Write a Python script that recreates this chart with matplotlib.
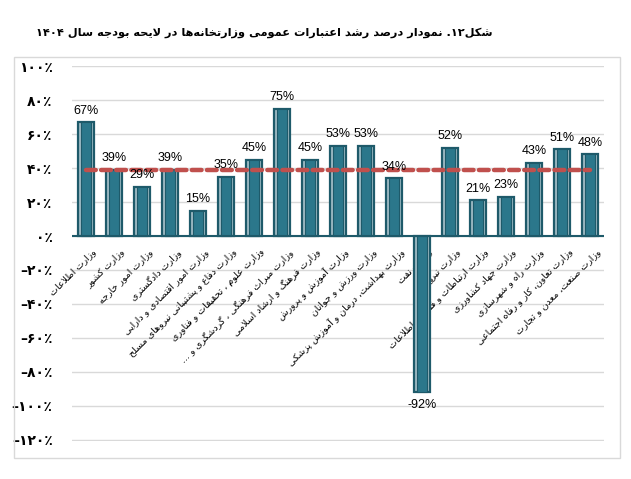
import matplotlib
matplotlib.use('Agg')
import matplotlib.pyplot as plt
from matplotlib.patches import Rectangle

title = 'شکل۱۲. نمودار درصد رشد اعتبارات عمومی وزارتخانه\u200cها در لایحه بودجه سال ۱۴۰۴'

ministries = [
    'وزارت اطلاعات',
    'وزارت کشور',
    'وزارت امور خارجه',
    'وزارت دادگستری',
    'وزارت امور اقتصادی و دارایی',
    'وزارت دفاع و پشتیبانی نیروهای مسلح',
    'وزارت علوم ، تحقیقات و فناوری',
    'وزارت میراث فرهنگی ، گردشگری و ...',
    'وزارت فرهنگ و ارشاد اسلامی',
    'وزارت آموزش و پرورش',
    'وزارت ورزش و جوانان',
    'وزارت بهداشت، درمان و آموزش پزشکی',
    'وزارت نفت',
    'وزارت نیرو',
    'وزارت ارتباطات و فناوری اطلاعات',
    'وزارت جهاد کشاورزی',
    'وزارت راه و شهرسازی',
    'وزارت تعاون، کار و رفاه اجتماعی',
    'وزارت صنعت، معدن و تجارت',
]
growth = [67, 39, 29, 39, 15, 35, 45, 75, 45, 53, 53, 34, -92, 52, 21, 23, 43, 51, 48]
average = 39
yticks = [-120, -100, -80, -60, -40, -20, 0, 20, 40, 60, 80, 100]

# matplotlib does no arabic shaping, so do it by hand with presentation forms
FORMS = {
    'ا': ('\uFE8D', '\uFE8E', None, None),
    'آ': ('\uFE81', '\uFE82', None, None),
    'ب': ('\uFE8F', '\uFE90', '\uFE91', '\uFE92'),
    'پ': ('\uFB56', '\uFB57', '\uFB58', '\uFB59'),
    'ت': ('\uFE95', '\uFE96', '\uFE97', '\uFE98'),
    'ث': ('\uFE99', '\uFE9A', '\uFE9B', '\uFE9C'),
    'ج': ('\uFE9D', '\uFE9E', '\uFE9F', '\uFEA0'),
    'چ': ('\uFB7A', '\uFB7B', '\uFB7C', '\uFB7D'),
    'ح': ('\uFEA1', '\uFEA2', '\uFEA3', '\uFEA4'),
    'خ': ('\uFEA5', '\uFEA6', '\uFEA7', '\uFEA8'),
    'د': ('\uFEA9', '\uFEAA', None, None),
    'ذ': ('\uFEAB', '\uFEAC', None, None),
    'ر': ('\uFEAD', '\uFEAE', None, None),
    'ز': ('\uFEAF', '\uFEB0', None, None),
    'ژ': ('\uFB8A', '\uFB8B', None, None),
    'س': ('\uFEB1', '\uFEB2', '\uFEB3', '\uFEB4'),
    'ش': ('\uFEB5', '\uFEB6', '\uFEB7', '\uFEB8'),
    'ص': ('\uFEB9', '\uFEBA', '\uFEBB', '\uFEBC'),
    'ض': ('\uFEBD', '\uFEBE', '\uFEBF', '\uFEC0'),
    'ط': ('\uFEC1', '\uFEC2', '\uFEC3', '\uFEC4'),
    'ظ': ('\uFEC5', '\uFEC6', '\uFEC7', '\uFEC8'),
    'ع': ('\uFEC9', '\uFECA', '\uFECB', '\uFECC'),
    'غ': ('\uFECD', '\uFECE', '\uFECF', '\uFED0'),
    'ف': ('\uFED1', '\uFED2', '\uFED3', '\uFED4'),
    'ق': ('\uFED5', '\uFED6', '\uFED7', '\uFED8'),
    'ک': ('\uFB8E', '\uFB8F', '\uFB90', '\uFB91'),
    'گ': ('\uFB92', '\uFB93', '\uFB94', '\uFB95'),
    'ل': ('\uFEDD', '\uFEDE', '\uFEDF', '\uFEE0'),
    'م': ('\uFEE1', '\uFEE2', '\uFEE3', '\uFEE4'),
    'ن': ('\uFEE5', '\uFEE6', '\uFEE7', '\uFEE8'),
    'و': ('\uFEED', '\uFEEE', None, None),
    'ه': ('\uFEE9', '\uFEEA', '\uFEEB', '\uFEEC'),
    'ی': ('\uFBFC', '\uFBFD', '\uFBFE', '\uFBFF'),
    'ئ': ('\uFE89', '\uFE8A', '\uFE8B', '\uFE8C'),
}
LAMALEF = {'ا': ('\uFEFB', '\uFEFC'), 'آ': ('\uFEF5', '\uFEF6')}
DIGITS = '0123456789۰۱۲۳۴۵۶۷۸۹'


def fa(s):
    res = []
    i = 0
    while i < len(s):
        c = s[i]
        prev = s[i - 1] if i > 0 else ''
        joined = prev in FORMS and FORMS[prev][2] is not None
        nxt = s[i + 1] if i + 1 < len(s) else ''
        if c == 'ل' and nxt in LAMALEF:
            res.append(LAMALEF[nxt][1 if joined else 0])
            i += 2
            continue
        if c in FORMS:
            iso, fin, ini, med = FORMS[c]
            if ini is not None and nxt in FORMS:
                res.append(med if joined else ini)
            else:
                res.append(fin if joined else iso)
        elif c != '\u200c':
            res.append(c)
        i += 1
    # visual order: reverse, but keep digit runs left to right
    runs = []
    for c in res:
        if c in DIGITS and runs and runs[-1][-1] in DIGITS:
            runs[-1] += c
        else:
            runs.append(c)
    return ''.join(runs[::-1])


def fa_num(v):
    d = ''.join('۰۱۲۳۴۵۶۷۸۹'[int(k)] for k in str(abs(v)))
    return ('\u2013' if v < 0 else '') + d + '٪'


fig = plt.figure(figsize=(6.31, 4.79), dpi=100)
fig.patches.append(Rectangle((14 / 631, 1 - 458 / 479), 606 / 631, 401 / 479,
                             transform=fig.transFigure, fill=False,
                             edgecolor='#D9D9D9', linewidth=1))
ax = fig.add_axes([72 / 631, 38.5 / 479, 532 / 631, 375 / 479])

x = list(range(len(growth)))
ax.bar(x, growth, width=0.56, color='#9DBAC3', edgecolor='#1E5A6A', linewidth=1.6, zorder=3)
ax.bar(x, growth, width=0.36, color='#2B778B', edgecolor='#1E5A6A', linewidth=0.8, zorder=4)
ax.axhline(0, color='#1E5A6A', linewidth=1.5, zorder=5)
ax.plot(x, [average] * len(x), color='#C0504D', linewidth=3.2, linestyle=(0, (2.2, 1.2)),
        dash_capstyle='round', zorder=6)

for i, v in enumerate(growth):
    if v >= 0:
        ax.annotate(f'{v}%', (i, v), xytext=(0, 4), textcoords='offset points',
                    ha='center', va='bottom', fontsize=9, family='Liberation Sans', zorder=7)
    else:
        ax.annotate(f'{v}%', (i, v), xytext=(0, -5), textcoords='offset points',
                    ha='center', va='top', fontsize=9, family='Liberation Sans', zorder=7)
    ax.annotate(fa(ministries[i]), (i, 0), xytext=(4, -8), textcoords='offset points',
                rotation=45, rotation_mode='anchor', ha='right', va='top',
                fontsize=6.8, family='DejaVu Sans', zorder=2)

ax.set_xlim(-0.5, len(growth) - 0.5)
ax.set_ylim(-120.3, 100.3)
ax.set_yticks(yticks)
ax.set_yticklabels([fa_num(v) for v in yticks], family='DejaVu Sans',
                   fontweight='bold', fontsize=10)
ax.set_xticks([])
ax.tick_params(axis='y', length=0, pad=14)
ax.grid(axis='y', color='#D9D9D9', linewidth=1, zorder=0)
ax.set_axisbelow(True)
for s in ax.spines.values():
    s.set_visible(False)

fig.text(264 / 631, 1 - 33 / 479, fa(title), ha='center', va='center',
         fontsize=8.2, fontweight='bold', family='DejaVu Sans')

fig.savefig('out.png', dpi=100)
